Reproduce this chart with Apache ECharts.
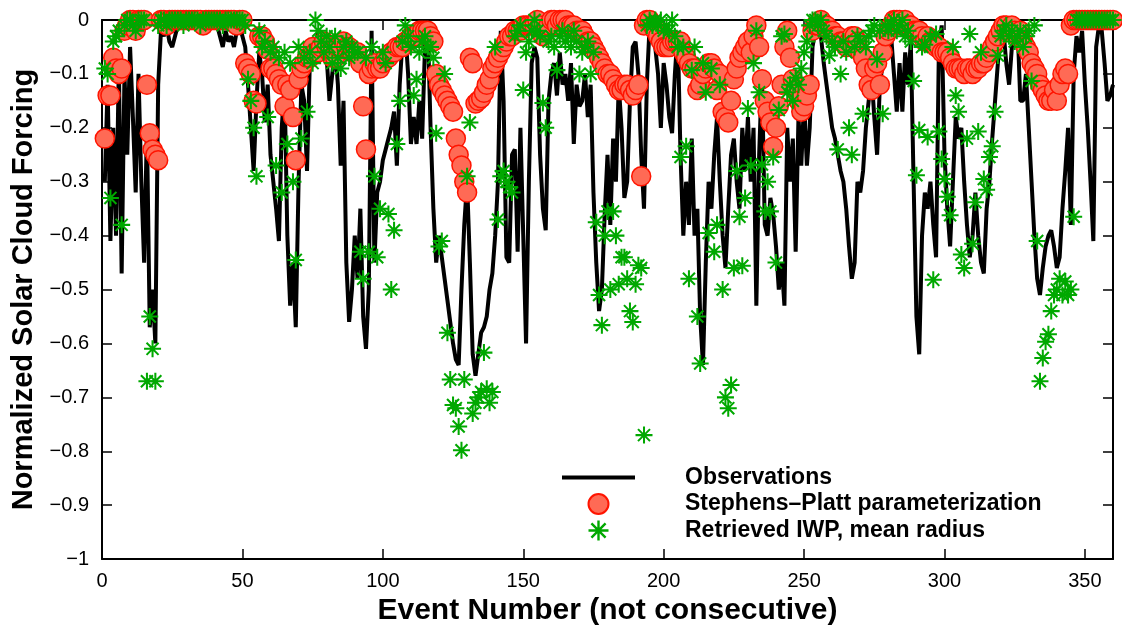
<!DOCTYPE html>
<html>
<head>
<meta charset="utf-8">
<script src="https://cdn.jsdelivr.net/npm/echarts@6/dist/echarts.min.js"></script>
<style>
  html, body { margin: 0; padding: 0; background: #fff; }
  #chart { width: 1122px; height: 631px; }
</style>
</head>
<body>
<div id="chart"></div>
<script>
// event numbers 1..360 (x positions only)
const events = Array.from({ length: 360 }, (_, i) => i + 1);

const observations = [
  -0.30, -0.12, -0.41, -0.20, -0.40, -0.08, -0.47, -0.10, -0.25, -0.05,
  -0.18, -0.32, -0.10, -0.30, -0.45, -0.20, -0.57, -0.50, -0.60, -0.12,
  -0.02, -0.03, -0.01, -0.04, -0.05, -0.03, -0.01, 0, 0, 0,
  0, 0, -0.01, 0, 0, 0, 0, 0, -0.01, 0,
  -0.01, -0.03, -0.05, -0.02, -0.04, -0.03, -0.05, -0.02, -0.01, -0.03,
  -0.05, -0.12, -0.20, -0.28, -0.15, -0.06, -0.10, -0.19, -0.12, -0.25,
  -0.30, -0.35, -0.41, -0.20, -0.12, -0.40, -0.53, -0.45, -0.57, -0.30,
  -0.12, -0.15, -0.28, -0.08, -0.04, -0.06, -0.02, -0.05, -0.03, -0.07,
  -0.15, -0.10, -0.05, -0.12, -0.27, -0.15, -0.45, -0.56, -0.50, -0.40,
  -0.48, -0.35, -0.55, -0.61, -0.50, -0.02, -0.45, -0.32, -0.30, -0.26,
  -0.24, -0.22, -0.20, -0.17, -0.27, -0.12, -0.04, -0.02, -0.10, -0.23,
  -0.18, -0.23, -0.15, -0.22, -0.05, -0.01, -0.20, -0.35, -0.45, -0.40,
  -0.44, -0.48, -0.52, -0.56, -0.60, -0.63, -0.64, -0.50, -0.38, -0.30,
  -0.45, -0.62, -0.66, -0.62, -0.58, -0.57, -0.55, -0.50, -0.47, -0.40,
  -0.30, -0.02, -0.15, -0.44, -0.45, -0.25, -0.24, -0.43, -0.20, -0.40,
  -0.60, -0.30, -0.08, -0.05, -0.07, -0.25, -0.35, -0.39, -0.15, -0.10,
  -0.08, -0.14, -0.06, -0.12, -0.10, -0.15, -0.08, -0.23, -0.12, -0.16,
  -0.15, -0.10, -0.18, -0.12, -0.32, -0.45, -0.54, -0.50, -0.36, -0.25,
  -0.38, -0.22, -0.30, -0.12, -0.20, -0.33, -0.30, -0.15, -0.05, -0.04,
  -0.10, -0.25, -0.35, -0.12, -0.01, -0.01, -0.05, -0.10, -0.20, -0.08,
  -0.12, -0.18, -0.21, -0.10, -0.02, -0.25, -0.40, -0.30, -0.38, -0.22,
  -0.40, -0.35, -0.55, -0.64, -0.45, -0.30, -0.35, -0.25, -0.18, -0.30,
  -0.40, -0.46, -0.35, -0.25, -0.22, -0.30, -0.35, -0.20, -0.28, -0.18,
  -0.30, -0.20, -0.53, -0.25, -0.10, -0.38, -0.40, -0.33, -0.36, -0.42,
  -0.50, -0.45, -0.53, -0.20, -0.30, -0.22, -0.43, -0.18, -0.27, -0.15,
  -0.27, -0.20, -0.05, -0.02, -0.01, -0.03, -0.08, -0.12, -0.16, -0.20,
  -0.22, -0.25, -0.28, -0.30, -0.35, -0.42, -0.48, -0.45, -0.30, -0.32,
  -0.28, -0.20, -0.15, -0.10, -0.18, -0.25, -0.12, -0.08, -0.05, -0.03,
  -0.03, -0.10, -0.17, -0.08, -0.17, -0.06, -0.12, -0.04, -0.30, -0.55,
  -0.62, -0.40, -0.32, -0.35, -0.30, -0.38, -0.44, -0.05, -0.01, -0.25,
  -0.35, -0.42, -0.30, -0.18, -0.22, -0.20, -0.30, -0.38, -0.44, -0.40,
  -0.32, -0.40, -0.45, -0.47, -0.35, -0.30, -0.22, -0.15, -0.08, -0.03,
  -0.02, -0.08, -0.12, -0.05, -0.03, -0.01, -0.15, -0.15, -0.10, -0.20,
  -0.30, -0.40, -0.48, -0.51, -0.46, -0.42, -0.40, -0.39, -0.42, -0.46,
  -0.44, -0.35, -0.28, -0.20, -0.38, -0.10, -0.03, -0.06, -0.02, -0.12,
  -0.20, -0.30, -0.41, -0.05, -0.01, -0.02, -0.08, -0.15, -0.14, -0.12
];

const stephensPlatt = [
  -0.22, -0.14, -0.14, -0.07, -0.09, -0.10, -0.09, -0.02, -0.01, 0,
  0, -0.02, 0, 0, 0, -0.12, -0.21, -0.24, -0.25, -0.26,
  0, 0, -0.01, 0, 0, 0, 0, 0, 0, 0,
  0, 0, 0, 0, 0, -0.01, 0, 0, 0, 0,
  0, 0, 0, 0, 0, 0, 0, -0.01, 0, 0,
  -0.08, -0.09, -0.10, -0.15, -0.155, -0.03, -0.03, -0.04, -0.055, -0.09,
  -0.09, -0.10, -0.11, -0.12, -0.16, -0.12, -0.13, -0.18, -0.26, -0.11,
  -0.09, -0.08, -0.07, -0.07, -0.05, -0.06, -0.06, -0.05, -0.04, -0.05,
  -0.06, -0.07, -0.07, -0.05, -0.05, -0.04, -0.05, -0.05, -0.06, -0.06,
  -0.06, -0.08, -0.16, -0.24, -0.10, -0.09, -0.08, -0.09, -0.09, -0.08,
  -0.07, -0.07, -0.06, -0.06, -0.05, -0.05, -0.05, -0.04, -0.04, -0.03,
  -0.03, -0.03, -0.02, -0.02, -0.02, -0.02, -0.03, -0.04, -0.10, -0.12,
  -0.13, -0.14, -0.15, -0.16, -0.17, -0.22, -0.25, -0.27, -0.30, -0.32,
  -0.07, -0.08, -0.155, -0.15, -0.145, -0.135, -0.12, -0.11, -0.09, -0.08,
  -0.07, -0.06, -0.05, -0.04, -0.03, -0.03, -0.02, -0.02, -0.02, -0.01,
  -0.01, -0.01, -0.01, -0.01, 0, -0.01, -0.03, -0.02, -0.01, 0,
  0, -0.01, 0, 0, 0, -0.01, -0.01, -0.01, -0.02, -0.02,
  -0.02, -0.03, -0.04, -0.04, -0.05, -0.06, -0.07, -0.08, -0.09, -0.10,
  -0.10, -0.11, -0.12, -0.13, -0.13, -0.12, -0.12, -0.13, -0.14, -0.13,
  -0.12, -0.29, -0.01, 0, 0, -0.01, -0.02, -0.03, -0.04, -0.05,
  -0.05, -0.05, -0.04, -0.04, -0.04, -0.04, -0.06, -0.07, -0.08, -0.09,
  -0.09, -0.13, -0.12, -0.10, -0.09, -0.08, -0.08, -0.09, -0.13, -0.10,
  -0.17, -0.18, -0.19, -0.15, -0.11, -0.09, -0.07, -0.06, -0.05, -0.04,
  -0.06, -0.03, -0.01, -0.05, -0.11, -0.15, -0.17, -0.19, -0.235, -0.20,
  -0.16, -0.12, -0.05, -0.02, -0.07, -0.11, -0.13, -0.15, -0.17, -0.16,
  -0.14, -0.12, -0.02, -0.01, -0.01, 0, -0.01, -0.01, -0.02, -0.02,
  -0.03, -0.03, -0.04, -0.04, -0.05, -0.04, -0.03, -0.03, -0.04, -0.06,
  -0.07, -0.09, -0.12, -0.13, -0.09, -0.08, -0.12, -0.06, -0.03, -0.02,
  -0.01, 0, 0, 0, -0.01, 0, -0.01, -0.01, -0.02, -0.02,
  -0.02, -0.03, -0.04, -0.03, -0.04, -0.04, -0.05, -0.05, -0.06, -0.06,
  -0.06, -0.07, -0.08, -0.09, -0.09, -0.09, -0.10, -0.09, -0.09, -0.10,
  -0.09, -0.09, -0.08, -0.08, -0.07, -0.06, -0.05, -0.04, -0.03, -0.02,
  -0.01, -0.01, -0.02, -0.01, -0.02, -0.03, -0.02, -0.04, -0.05, -0.06,
  -0.08, -0.09, -0.10, -0.12, -0.13, -0.14, -0.15, -0.15, -0.13, -0.15,
  -0.12, -0.10, -0.09, -0.10, -0.01, 0, 0, 0, 0, 0,
  0, 0, 0, 0, 0, 0, 0, 0, 0, 0
];

const retrievedIWP = [
  -0.09, -0.10, -0.33, -0.04, -0.03, -0.02, -0.38, -0.01, 0, 0,
  -0.01, -0.02, 0, 0, 0, -0.67, -0.55, -0.61, -0.67, -0.01,
  0, 0, -0.01, 0, 0, 0, 0, 0, -0.01, 0,
  0, 0, 0, 0, -0.01, 0, 0, 0, 0, 0,
  0, 0, -0.01, 0, 0, 0, 0, 0, 0, 0,
  -0.01, -0.11, -0.15, -0.20, -0.29, -0.02, -0.05, -0.04, -0.18, -0.06,
  -0.05, -0.27, -0.07, -0.32, -0.06, -0.23, -0.08, -0.30, -0.445, -0.05,
  -0.22, -0.07, -0.17, -0.06, -0.08, 0, -0.02, -0.04, -0.06, -0.03,
  -0.05, -0.08, -0.03, -0.07, -0.09, -0.05, -0.04, -0.07, -0.05, -0.06,
  -0.06, -0.43, -0.48, -0.07, -0.43, -0.05, -0.29, -0.44, -0.35, -0.06,
  -0.08, -0.36, -0.50, -0.39, -0.23, -0.15, -0.04, -0.01, -0.03, -0.05,
  -0.14, -0.11, -0.06, -0.04, -0.03, -0.05, -0.05, -0.07, -0.21, -0.42,
  -0.41, -0.10, -0.58, -0.667, -0.714, -0.72, -0.754, -0.798, -0.667, -0.29,
  -0.19, -0.73, -0.71, -0.70, -0.69, -0.617, -0.684, -0.71, -0.69, -0.05,
  -0.37, -0.29, -0.28, -0.30, -0.31, -0.32, -0.03, -0.02, -0.01, -0.13,
  -0.06, -0.04, -0.02, 0, -0.02, -0.03, -0.154, -0.20, -0.04, -0.03,
  -0.05, -0.093, -0.03, -0.02, -0.04, -0.03, -0.05, -0.02, -0.04, -0.10,
  -0.06, -0.05, -0.04, -0.10, -0.06, -0.375, -0.51, -0.566, -0.40, -0.355,
  -0.50, -0.355, -0.40, -0.49, -0.44, -0.44, -0.48, -0.54, -0.56, -0.49,
  -0.455, -0.46, -0.77, -0.01, 0, -0.01, 0, -0.01, 0, -0.02,
  -0.01, -0.02, 0, -0.03, -0.05, -0.254, -0.05, -0.234, -0.48, -0.093,
  -0.05, -0.55, -0.637, -0.08, -0.134, -0.395, -0.09, -0.43, -0.38, -0.12,
  -0.50, -0.70, -0.72, -0.677, -0.46, -0.28, -0.365, -0.456, -0.33, -0.164,
  -0.27, -0.08, -0.02, -0.134, -0.268, -0.355, -0.30, -0.355, -0.254, -0.45,
  -0.167, -0.03, -0.026, -0.134, -0.12, -0.15, -0.107, -0.12, -0.09, -0.06,
  -0.04, -0.01, 0, 0, -0.01, 0, -0.02, -0.03, -0.066, -0.04,
  -0.05, -0.24, -0.10, -0.04, -0.06, -0.20, -0.25, -0.05, -0.03, -0.04,
  -0.174, -0.05, -0.03, -0.02, -0.01, -0.073, -0.02, -0.174, -0.01, -0.02,
  -0.01, 0, -0.02, -0.01, 0, -0.03, -0.02, -0.04, -0.113, -0.288,
  -0.204, -0.05, -0.046, -0.217, -0.03, -0.482, -0.026, -0.207, -0.258, -0.295,
  -0.328, -0.362, -0.05, -0.14, -0.17, -0.435, -0.46, -0.22, -0.026, -0.415,
  -0.338, -0.207, -0.06, -0.295, -0.315, -0.254, -0.234, -0.17, -0.066, -0.03,
  -0.02, -0.01, -0.03, -0.02, -0.04, -0.03, -0.02, -0.05, -0.03, -0.02,
  -0.113, -0.01, -0.41, -0.67, -0.627, -0.597, -0.583, -0.54, -0.51, -0.50,
  -0.48, -0.51, -0.485, -0.51, -0.50, -0.365, 0, 0, 0, 0,
  0, 0, 0, 0, 0, 0, 0, 0, 0, 0
];

const seriesNames = ['Observations', 'Stephens\u2013Platt parameterization', 'Retrieved IWP, mean radius'];

const font = 'Liberation Sans, Arial, Helvetica, sans-serif';

// eight-armed asterisk drawn as filled bars
const starPath = 'path://M-1.2,-10L1.2,-10L1.2,10L-1.2,10Z' +
  'M-10,-1.2L10,-1.2L10,1.2L-10,1.2Z' +
  'M-6.22,-7.92L7.92,6.22L6.22,7.92L-7.92,-6.22Z' +
  'M6.22,-7.92L7.92,-6.22L-6.22,7.92L-7.92,6.22Z';

// plain bar used as the legend key of the observation line
const lineKey = 'path://M0,0L73,0L73,4L0,4Z';

function pairs(values) {
  return events.map((e, i) => [e, values[i]]);
}

function yLabel(v) {
  if (Math.abs(v) < 1e-9) return '0';
  if (Math.abs(v + 1) < 1e-9) return '\u22121';
  return '\u2212' + Math.abs(v).toFixed(1);
}

const axisCommon = {
  axisLine: { show: true, onZero: false, lineStyle: { color: '#000', width: 2 } },
  axisTick: { show: true, inside: true, length: 10, lineStyle: { color: '#000', width: 1.5 } },
  splitLine: { show: false }
};

const chart = echarts.init(document.getElementById('chart'));

chart.setOption({
  animation: false,
  backgroundColor: '#fff',
  grid: { left: 102, right: 9, top: 20, bottom: 69 },
  legend: {
    orient: 'vertical',
    left: 557,
    top: 461,
    itemWidth: 73,
    itemHeight: 20,
    itemGap: 3.5,
    selectedMode: false,
    data: [
      { name: seriesNames[0], icon: lineKey },
      { name: seriesNames[1] },
      { name: seriesNames[2] }
    ],
    textStyle: {
      fontFamily: font, fontWeight: 'bold', fontSize: 23, color: '#000',
      lineHeight: 20, padding: [0, 0, 0, 45]
    }
  },
  xAxis: [
    Object.assign({
      type: 'value', position: 'bottom', min: 0, max: 360, interval: 50,
      name: 'Event Number (not consecutive)', nameLocation: 'middle', nameGap: 34,
      nameTextStyle: { fontFamily: font, fontWeight: 'bold', fontSize: 30, color: '#000' },
      axisLabel: { fontFamily: font, fontSize: 20, color: '#000', margin: 12,
        formatter: v => (v > 355 ? '' : String(v)) }
    }, axisCommon),
    Object.assign({
      type: 'value', position: 'top', min: 0, max: 360, interval: 50,
      axisLabel: { show: false }
    }, axisCommon)
  ],
  yAxis: [
    Object.assign({
      type: 'value', position: 'left', min: -1, max: 0, interval: 0.1,
      name: 'Normalized Solar Cloud Forcing', nameLocation: 'middle', nameGap: 63,
      nameTextStyle: { fontFamily: font, fontWeight: 'bold', fontSize: 29, color: '#000' },
      axisLabel: { fontFamily: font, fontSize: 20, color: '#000', margin: 13, formatter: yLabel }
    }, axisCommon),
    Object.assign({
      type: 'value', position: 'right', min: -1, max: 0, interval: 0.1,
      axisLabel: { show: false }
    }, axisCommon)
  ],
  series: [
    {
      name: seriesNames[0],
      type: 'line',
      data: pairs(observations),
      showSymbol: false,
      symbol: 'none',
      clip: false,
      z: 2,
      lineStyle: { color: '#000', width: 4 },
      itemStyle: { color: '#000' }
    },
    {
      name: seriesNames[1],
      type: 'scatter',
      data: pairs(stephensPlatt),
      symbol: 'circle',
      symbolSize: 19,
      clip: false,
      z: 3,
      itemStyle: { color: '#ff6a55', borderColor: '#ff1400', borderWidth: 1.5, opacity: 1 }
    },
    {
      name: seriesNames[2],
      type: 'scatter',
      data: pairs(retrievedIWP),
      symbol: starPath,
      symbolSize: 17,
      clip: false,
      z: 4,
      itemStyle: { color: '#00a800', opacity: 1 }
    }
  ]
});
</script>
</body>
</html>
